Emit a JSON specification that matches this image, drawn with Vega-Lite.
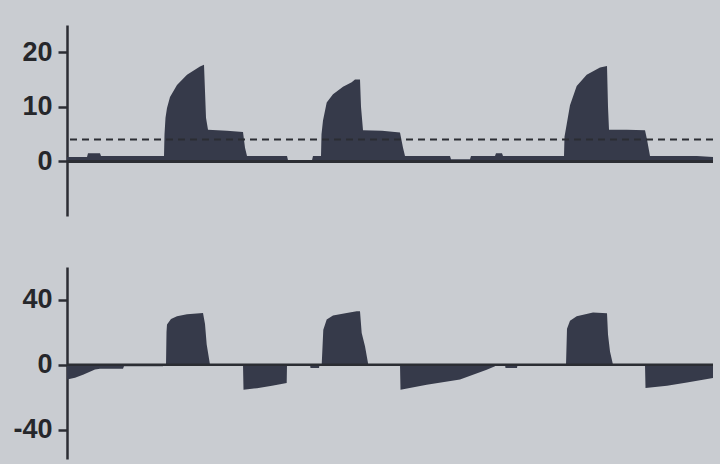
{
  "$schema": "https://vega.github.io/schema/vega-lite/v6.json",
  "background": "#c9ccd1",
  "padding": {"left": 0, "top": 25, "right": 7, "bottom": 5},
  "datasets": {
    "pressure": [
      {"t": 0, "p": 0.8}, {"t": 20, "p": 0.8}, {"t": 21, "p": 1.5}, {"t": 33, "p": 1.5}, {"t": 34, "p": 1.0},
      {"t": 97, "p": 1.0}, {"t": 97.5, "p": 5.0}, {"t": 98.5, "p": 8.0}, {"t": 100, "p": 9.8}, {"t": 103, "p": 11.8}, {"t": 110, "p": 14.0},
      {"t": 120, "p": 15.9}, {"t": 133, "p": 17.4}, {"t": 137, "p": 17.7}, {"t": 139, "p": 8.0}, {"t": 141, "p": 5.8},
      {"t": 160, "p": 5.6}, {"t": 176, "p": 5.4}, {"t": 178, "p": 2.5}, {"t": 180, "p": 1.0}, {"t": 220, "p": 1.0},
      {"t": 221, "p": 0.2}, {"t": 245, "p": 0.2}, {"t": 246, "p": 1.0}, {"t": 254, "p": 1.0}, {"t": 254.5, "p": 5.0},
      {"t": 256, "p": 7.5}, {"t": 259.7, "p": 10.8}, {"t": 266, "p": 12.3}, {"t": 276, "p": 13.7}, {"t": 284.7, "p": 14.5},
      {"t": 288, "p": 15.0}, {"t": 293, "p": 15.0}, {"t": 294, "p": 10.0}, {"t": 296, "p": 5.7}, {"t": 315, "p": 5.6},
      {"t": 333, "p": 5.3}, {"t": 336, "p": 2.5}, {"t": 338, "p": 1.0}, {"t": 383, "p": 1.0}, {"t": 384, "p": 0.4},
      {"t": 403, "p": 0.4}, {"t": 404, "p": 1.0}, {"t": 428, "p": 1.0}, {"t": 429, "p": 1.5}, {"t": 435, "p": 1.5},
      {"t": 436, "p": 1.0}, {"t": 497, "p": 1.0}, {"t": 497.5, "p": 4.5}, {"t": 499.7, "p": 6.8}, {"t": 503, "p": 10.3},
      {"t": 509.7, "p": 13.8}, {"t": 519.7, "p": 15.9}, {"t": 533, "p": 17.2}, {"t": 540, "p": 17.5}, {"t": 541, "p": 10.0},
      {"t": 542, "p": 5.8}, {"t": 560, "p": 5.8}, {"t": 578, "p": 5.7}, {"t": 580, "p": 4.0}, {"t": 583, "p": 1.0},
      {"t": 630, "p": 1.0}, {"t": 646, "p": 0.8}
    ],
    "flow": [
      {"t": 0, "f": -9.2}, {"t": 8, "f": -8.0}, {"t": 16, "f": -6.2}, {"t": 28, "f": -3.0}, {"t": 33, "f": -2.5},
      {"t": 56, "f": -2.5}, {"t": 57, "f": -1.0}, {"t": 96, "f": -1.0}, {"t": 97, "f": 0},
      {"t": 99, "f": 0}, {"t": 99.5, "f": 20}, {"t": 100, "f": 24.6}, {"t": 104, "f": 28}, {"t": 110, "f": 29.7},
      {"t": 120, "f": 31}, {"t": 136, "f": 31.8}, {"t": 138, "f": 25}, {"t": 139.7, "f": 12.3}, {"t": 143, "f": 0},
      {"t": 176, "f": 0}, {"t": 176.5, "f": -15.4}, {"t": 190, "f": -14.5}, {"t": 205, "f": -13}, {"t": 219.7, "f": -11.3},
      {"t": 220, "f": 0}, {"t": 243, "f": 0}, {"t": 243.5, "f": -2}, {"t": 252, "f": -2}, {"t": 252.5, "f": 0},
      {"t": 254.7, "f": 0}, {"t": 256.3, "f": 21.5}, {"t": 259.7, "f": 27.7}, {"t": 266, "f": 30.2}, {"t": 279.7, "f": 31.8},
      {"t": 289.7, "f": 32.8}, {"t": 293, "f": 32.8}, {"t": 294.7, "f": 19.5}, {"t": 298, "f": 11.3}, {"t": 301.3, "f": 0},
      {"t": 333, "f": 0}, {"t": 333.5, "f": -15.4}, {"t": 359.7, "f": -12.3}, {"t": 393, "f": -9.2}, {"t": 419.7, "f": -3.1},
      {"t": 428, "f": -1}, {"t": 429, "f": 0}, {"t": 438, "f": 0}, {"t": 438.5, "f": -2}, {"t": 450, "f": -2},
      {"t": 450.5, "f": 0}, {"t": 499, "f": 0}, {"t": 500, "f": 22}, {"t": 503, "f": 27}, {"t": 509.7, "f": 29.7},
      {"t": 526, "f": 32}, {"t": 540, "f": 31.5}, {"t": 541, "f": 18.5}, {"t": 543, "f": 8}, {"t": 546, "f": 0},
      {"t": 578, "f": 0}, {"t": 578.5, "f": -14.4}, {"t": 600, "f": -13}, {"t": 620, "f": -11}, {"t": 646, "f": -8.2}
    ]
  },
  "config": {
    "view": {"stroke": null},
    "axis": {
      "domainColor": "#2b2d33",
      "domainWidth": 2.5,
      "tickColor": "#2b2d33",
      "tickWidth": 2.5,
      "tickSize": 9,
      "labelFont": "Liberation Sans",
      "labelFontSize": 27,
      "labelFontWeight": "bold",
      "labelColor": "#26272b",
      "labelPadding": 6,
      "grid": false,
      "minExtent": 67,
      "maxExtent": 67
    }
  },
  "spacing": 51,
  "vconcat": [
    {
      "width": 646,
      "height": 191,
      "layer": [
        {
          "data": {"name": "pressure"},
          "mark": {"type": "area", "color": "#363a4a", "interpolate": "linear"},
          "encoding": {
            "x": {"field": "t", "type": "quantitative", "scale": {"domain": [0, 646], "nice": false}, "axis": null},
            "y": {"field": "p", "type": "quantitative", "scale": {"domain": [-10, 25], "nice": false},
                  "axis": {"values": [0, 10, 20], "title": null}}
          }
        },
        {
          "data": {"values": [{"level": 4}]},
          "mark": {"type": "rule", "color": "#2b2d33", "strokeWidth": 2, "strokeDash": [7, 5]},
          "encoding": {"y": {"field": "level", "type": "quantitative"}}
        },
        {
          "data": {"values": [{"base": 0}]},
          "mark": {"type": "rule", "color": "#2b2d33", "strokeWidth": 3},
          "encoding": {"y": {"field": "base", "type": "quantitative"}}
        }
      ]
    },
    {
      "width": 646,
      "height": 192,
      "layer": [
        {
          "data": {"name": "flow"},
          "mark": {"type": "area", "color": "#363a4a", "interpolate": "linear"},
          "encoding": {
            "x": {"field": "t", "type": "quantitative", "scale": {"domain": [0, 646], "nice": false}, "axis": null},
            "y": {"field": "f", "type": "quantitative", "scale": {"domain": [-58, 60], "nice": false},
                  "axis": {"values": [-40, 0, 40], "title": null,
                           "labelExpr": "datum.value < 0 ? '-' + abs(datum.value) : datum.label"}}
          }
        },
        {
          "data": {"values": [{"base": 0}]},
          "mark": {"type": "rule", "color": "#2b2d33", "strokeWidth": 2.5},
          "encoding": {"y": {"field": "base", "type": "quantitative"}}
        }
      ]
    }
  ]
}
